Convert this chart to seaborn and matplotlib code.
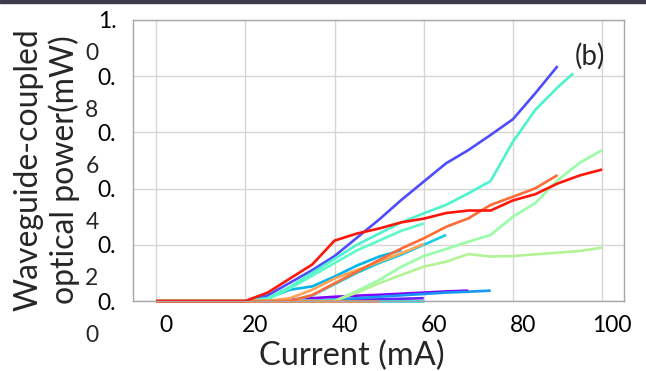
import matplotlib
matplotlib.use("Agg")
import matplotlib.pyplot as plt
import matplotlib.transforms as mtransforms
from matplotlib.patches import Rectangle
import numpy as np
import pandas as pd
import seaborn as sns

# ---------------- data ----------------
current = [0, 5, 10, 15, 20, 25, 30, 35, 40, 45, 50, 55, 60, 65, 70, 75, 80, 85, 90, 95, 100]

purple = [0, 0, 0, 0, 0, 0, 0.005, 0.01, 0.015, 0.019, 0.022, 0.026, 0.03, 0.034, 0.037]
violet = [0, 0, 0, 0, 0, 0, 0, 0.002, 0.004, 0.005, 0.006, 0.008, 0.01]
blue = [0, 0, 0, 0, 0, 0.02, 0.065, 0.11, 0.16, 0.225, 0.29, 0.36, 0.425, 0.49, 0.537, 0.591, 0.647, 0.739, 0.836]
dodger = [0, 0, 0, 0, 0, 0, 0, 0, 0.005, 0.01, 0.015, 0.02, 0.025, 0.03, 0.033, 0.037]
deepsky = [0, 0, 0, 0, 0, 0.01, 0.04, 0.052, 0.087, 0.126, 0.158, 0.181]
turq = [0, 0, 0, 0, 0, 0, 0, 0.02, 0.06, 0.1, 0.135, 0.165, 0.2, 0.235]
cyan_flat = [0, 0, 0, 0, 0, 0, 0, 0, 0, 0, 0, 0, 0]
aqua1_x = [0, 5, 10, 15, 20, 25, 30, 35, 40, 45, 50, 55, 60, 65, 70, 75, 80, 85, 90, 93.5]
aqua1 = [0, 0, 0, 0, 0, 0.01, 0.05, 0.1, 0.15, 0.2, 0.24, 0.28, 0.312, 0.342, 0.383, 0.427, 0.567, 0.68, 0.76, 0.81]
aqua2 = [0, 0, 0, 0, 0, 0.005, 0.045, 0.09, 0.135, 0.18, 0.215, 0.25, 0.276]
green1 = [0, 0, 0, 0, 0, 0, 0, 0, 0, 0.035, 0.075, 0.122, 0.16, 0.185, 0.211, 0.235, 0.3, 0.348, 0.43, 0.492, 0.537]
green2 = [0, 0, 0, 0, 0, 0, 0, 0, 0, 0.03, 0.063, 0.093, 0.122, 0.14, 0.167, 0.158, 0.16, 0.166, 0.172, 0.178, 0.19]
lightorange = [0, 0, 0, 0, 0, 0, 0.01, 0.04, 0.08, 0.11, 0.14, 0.17, 0.203]
orange_flat = [0, 0, 0, 0, 0, 0, 0, 0, 0, 0, 0]
orange = [0, 0, 0, 0, 0, 0, 0, 0.021, 0.063, 0.104, 0.146, 0.187, 0.223, 0.264, 0.294, 0.342, 0.371, 0.401, 0.448]
red = [0, 0, 0, 0, 0, 0.03, 0.08, 0.13, 0.215, 0.24, 0.258, 0.28, 0.293, 0.313, 0.322, 0.322, 0.358, 0.38, 0.418, 0.447, 0.468]

x_ticks = [0, 20, 40, 60, 80, 100]
y_ticks = [0.0, 0.2, 0.4, 0.6, 0.8, 1.0]
y_tick_first = ["0.", "0.", "0.", "0.", "0.", "1."]
y_tick_second = ["0", "2", "4", "6", "8", "0"]

# draw order and rainbow position
series = [
    ("purple", None, purple, 0.0),
    ("violet", None, violet, 0.05),
    ("blue", None, blue, 0.1),
    ("dodger", None, dodger, 0.2),
    ("deepsky", None, deepsky, 0.25),
    ("turq", None, turq, 0.3),
    ("cyan_flat", None, cyan_flat, 0.32),
    ("aqua1", aqua1_x, aqua1, 0.4),
    ("aqua2", None, aqua2, 0.43),
    ("green1", None, green1, 0.55),
    ("green2", None, green2, 0.6),
    ("lightorange", None, lightorange, 0.78),
    ("orange_flat", None, orange_flat, 0.83),
    ("orange", None, orange, 0.86),
    ("red", None, red, 0.97),
]

frames = []
palette = {}
for name, xs, ys, c in series:
    xs = xs if xs is not None else current[:len(ys)]
    frames.append(pd.DataFrame({"x": xs, "y": ys, "s": name}))
    palette[name] = plt.cm.rainbow(c)
df = pd.concat(frames, ignore_index=True)

# ---------------- figure ----------------
sns.set_style("white")
plt.rcParams["font.family"] = ["Lato", "DejaVu Sans"]

fig = plt.figure(figsize=(6.46, 3.71), dpi=100)
ax = fig.add_axes([133 / 646, 1 - 301 / 371, (624 - 133) / 646, (301 - 20) / 371])

sns.lineplot(data=df, x="x", y="y", hue="s", hue_order=[s[0] for s in series],
             palette=palette, sort=False, estimator=None, legend=False,
             linewidth=1.9, ax=ax)
for ln in ax.lines:
    ln.set_clip_on(False)
    ln.set_solid_capstyle("butt")

ax.set_xlim(-5.2, 104.9)
ax.set_ylim(0, 1.0)
ax.set_xticks(x_ticks)
ax.set_yticks(y_ticks)
ax.grid(True, color="#d6d6d6", linewidth=1.0)
ax.set_axisbelow(True)
for sp in ax.spines.values():
    sp.set_color("#a6a6a6")
    sp.set_linewidth(1.0)
ax.tick_params(axis="both", direction="out", length=5, width=1.0, color="#a6a6a6",
               labelsize=16.5, labelcolor="black")
ax.tick_params(axis="y", pad=7)
ax.tick_params(axis="x", pad=5)

ax.set_xticklabels([str(v) for v in x_ticks])
ax.set_yticklabels(y_tick_first)
off = mtransforms.ScaledTranslation(0.10, 0, fig.dpi_scale_trans)
for lab in ax.get_xticklabels():
    lab.set_transform(lab.get_transform() + off)

ytrans = ax.get_yaxis_transform() + mtransforms.ScaledTranslation(0, -0.34, fig.dpi_scale_trans)
for v, d in zip(y_ticks, y_tick_second):
    ax.text((92 - 133) / 491, v, d, transform=ytrans, ha="center", va="center",
            fontsize=16.5, clip_on=False)

ax.set_xlabel("")
ax.set_ylabel("")
fig.text(352 / 646, 1 - 356 / 371, "Current (mA)", ha="center", va="center", fontsize=23.5)
fig.text(47 / 646, 1 - 170 / 371, "Waveguide-coupled\noptical power(mW)", ha="center",
         va="center", rotation=90, fontsize=23, linespacing=1.2, multialignment="center")

ax.text(97.3, 0.872, "(b)", ha="center", va="center", fontsize=20)

fig.patches.append(Rectangle((0, 1 - 3 / 371), 1, 3 / 371, transform=fig.transFigure,
                             color="#3e3b4e", zorder=10))

fig.savefig("out.png", dpi=100)
